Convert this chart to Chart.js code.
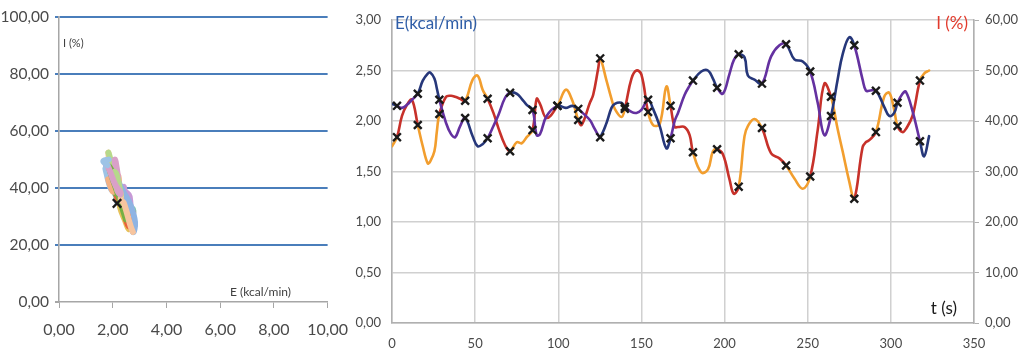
<!DOCTYPE html>
<html><head><meta charset="utf-8">
<script src="https://cdn.jsdelivr.net/npm/chart.js@4.4.1/dist/chart.umd.min.js"></script>
<style>
html,body{margin:0;padding:0;background:#fff;width:1025px;height:349px;overflow:hidden;}
#wl{position:absolute;left:0;top:0;width:360px;height:349px;}
#wr{position:absolute;left:345px;top:0;width:680px;height:349px;}
</style></head><body>
<div id="wl"><canvas id="cl"></canvas></div>
<div id="wr"><canvas id="cr"></canvas></div>
<script>
// ---------- DATA ----------
const timeS = [0,3,6,9,12,15.5,18.5,21.5,23,25.5,27,28.5,32.5,35.5,38,41,44,48.5,51.5,54.5,57.5,61,64,68,71,75,78,81,84.5,87,89,93,99.5,104.5,108.5,112,114,119,121,124,125.2,129,132,134,138,140,144,147,150,154,157,161,165,167.5,170,172,176,179,181,186,190,193,195.5,199,203,205.5,208.5,212,214,218,222.5,228,233,237,242,247,251.5,256,260,264,268,271,275,278,283,285,287,291,296,299,302,304,307,309,313,317.5,320,323];
const energyKcalMin = [2.17,2.15,2.13,2.16,2.21,2.27,2.40,2.47,2.48,2.42,2.32,2.21,1.98,1.87,1.84,1.95,2.03,1.85,1.75,1.77,1.83,1.95,2.06,2.23,2.28,2.27,2.22,2.16,2.11,1.86,1.87,2.05,2.15,2.13,2.15,2.12,2.09,2.01,1.95,1.86,1.84,1.98,2.13,2.17,2.18,2.14,2.09,2.08,2.11,2.21,2.12,1.95,1.73,1.83,2.00,2.08,2.26,2.35,2.40,2.49,2.50,2.42,2.33,2.27,2.47,2.60,2.66,2.63,2.45,2.41,2.37,2.64,2.75,2.76,2.61,2.59,2.49,2.18,1.86,2.05,2.41,2.66,2.83,2.75,2.41,2.30,2.30,2.30,2.14,2.05,2.08,2.18,2.27,2.29,2.10,1.80,1.65,1.85];
const intensityPct = [35.0,36.8,41.0,43.2,44.2,39.2,35.0,31.6,32.0,34.0,38.0,41.4,44.8,45.0,44.8,44.4,44.0,48.2,49.0,46.2,44.4,41.6,38.6,35.2,34.0,35.8,35.6,36.8,38.2,44.4,43.4,40.6,43.0,46.2,44.0,40.2,39.2,43.6,45.2,50.4,52.4,48.0,44.4,42.4,40.8,42.4,48.4,50.0,49.2,41.8,39.2,39.4,46.8,43.0,38.8,38.8,38.8,37.2,33.8,29.8,30.4,34.0,34.4,33.4,28.4,25.6,27.0,37.0,39.0,40.4,38.6,33.6,32.6,31.2,28.6,26.6,29.0,38.2,47.4,44.8,38.4,34.0,28.0,24.6,34.8,35.8,36.2,37.8,44.8,45.6,42.2,39.0,37.8,38.4,41.0,48.0,49.4,50.0];
const markerTimes = [3,15.5,28.5,44,57.5,71,84.5,99.5,112,125.2,140,154,167.5,181,195.5,208.5,222.5,237,251.5,264,278,291,304,317.5];
const meanE = [2.16];
const meanI = [34.6];
const leftXTicks = [0,2,4,6,8,10];
const leftYTicks = [0,20,40,60,80,100];

// ---------- STYLE ----------
const FONT = "Lato, 'Liberation Sans', sans-serif";
const NAVY = '#26377a', PURPLE = '#6431a0', RED = '#c7312a', ORANGE = '#f29e2e';
const BLOB = ['#9dc3e6','#f4b183','#a9d18e','#e6c15a','#c79ad6','#7fc8a9','#e9603a','#76b043','#8fb4e3','#f7c59f','#b6d98b','#d9a0c8'];
const TICKCOL = '#4a4a4a';
const fmt2 = v => Number(v).toFixed(2).replace('.', ',');

function phaseOf(t){ let p = 0; for (const m of markerTimes) if (m <= t + 1e-6) p++; return p; }
const isMarkerT = t => markerTimes.some(m => Math.abs(m - t) < 1e-6);

Chart.defaults.font.family = FONT;
Chart.defaults.color = TICKCOL;

// ---------- LEFT CHART ----------
const pairs = timeS.map((t,i) => ({x: energyKcalMin[i], y: intensityPct[i], t}));
const leftLabels = {
  id: 'leftLabels',
  afterDraw(chart){
    const {ctx, chartArea: a} = chart;
    ctx.save();
    ctx.fillStyle = '#404040'; ctx.textBaseline = 'middle'; ctx.textAlign = 'left';
    ctx.font = `11px ${FONT}`;
    ctx.fillText('I (%)', a.left + 4, a.top + 26);
    ctx.font = `12px ${FONT}`;
    ctx.fillText('E (kcal/min)', a.left + 171, a.bottom - 10);
    ctx.restore();
  }
};
new Chart(document.getElementById('cl'), {
  type: 'line',
  data: { datasets: [
    { data: meanE.map((e,i)=>({x:e, y:meanI[i]})), showLine:false, order:0,
      pointStyle:'crossRot', pointRadius:6, pointBorderWidth:2.2, pointBorderColor:'#1a1a1a', pointBackgroundColor:'#1a1a1a' },
    { data: pairs, showLine:true, order:1, borderWidth:6, tension:0.4, pointRadius:0,
      borderCapStyle:'round', borderJoinStyle:'round', borderColor: BLOB[0],
      segment: { borderColor: c => BLOB[phaseOf(pairs[c.p0DataIndex].t) % BLOB.length] } }
  ]},
  options: {
    responsive:true, maintainAspectRatio:false, animation:false, devicePixelRatio:1,
    layout: { padding: {top:17, right:31, left:0, bottom:0} },
    plugins: { legend:{display:false}, tooltip:{enabled:false} },
    scales: {
      x: { type:'linear', min:0, max:10, afterBuildTicks: s => { s.ticks = leftXTicks.map(v=>({value:v})); },
        afterFit: s => { s.height = 47; },
        grid: { drawOnChartArea:false, drawTicks:true, tickLength:6, tickColor:'#a6a6a6' },
        border: { color:'#a6a6a6', width:1.5 },
        ticks: { autoSkip:false, maxRotation:0, padding:12, font:{size:16}, color:TICKCOL, callback: fmt2 } },
      y: { type:'linear', min:0, max:100, afterBuildTicks: s => { s.ticks = leftYTicks.map(v=>({value:v})); },
        afterFit: s => { s.width = 59; },
        grid: { color: c => c.tick && c.tick.value === 0 ? 'rgba(0,0,0,0)' : '#4a7ebb', lineWidth:2, tickLength:4,
                tickColor: c => c.tick && c.tick.value === 0 ? '#a6a6a6' : '#4a7ebb' },
        border: { color:'#a6a6a6', width:1.5 },
        ticks: { padding:6, font:{size:15.5}, color:TICKCOL, callback: fmt2 } }
    }
  },
  plugins: [leftLabels]
});

// ---------- RIGHT CHART ----------
const ePts = timeS.map((t,i)=>({x:t, y:energyKcalMin[i]}));
const iPts = timeS.map((t,i)=>({x:t, y:intensityPct[i]}));
const rightLabels = {
  id: 'rightLabels',
  afterDraw(chart){
    const {ctx, chartArea: a} = chart;
    ctx.save();
    ctx.textBaseline = 'middle';
    ctx.font = `17px ${FONT}`;
    ctx.textAlign = 'left'; ctx.fillStyle = '#2f5ea8';
    ctx.fillText('E(kcal/min)', a.left + 3, a.top + 4);
    ctx.textAlign = 'right'; ctx.fillStyle = '#e23a2c';
    ctx.fillText('I (%)', a.right - 6, a.top + 4);
    ctx.fillStyle = '#1a1a1a';
    ctx.fillText('t (s)', a.right - 17, a.bottom - 14);
    ctx.restore();
  }
};
const markerStyle = { showLine:false, order:0, pointStyle:'crossRot', pointRadius:5.5, pointBorderWidth:2.4,
  pointBorderColor:'#1a1a1a', pointBackgroundColor:'#1a1a1a' };
new Chart(document.getElementById('cr'), {
  type: 'line',
  data: { datasets: [
    Object.assign({ data: ePts.filter(p=>isMarkerT(p.x)), yAxisID:'y' }, markerStyle),
    Object.assign({ data: iPts.filter(p=>isMarkerT(p.x)), yAxisID:'y2' }, markerStyle),
    { data: ePts, yAxisID:'y', order:1, borderWidth:2.6, tension:0.4, pointRadius:0, borderColor:NAVY,
      borderCapStyle:'round', borderJoinStyle:'round',
      segment: { borderColor: c => phaseOf(c.p0.parsed.x) % 2 ? PURPLE : NAVY } },
    { data: iPts, yAxisID:'y2', order:1, borderWidth:2.6, tension:0.4, pointRadius:0, borderColor:RED,
      borderCapStyle:'round', borderJoinStyle:'round',
      segment: { borderColor: c => phaseOf(c.p0.parsed.x) % 2 ? RED : ORANGE } }
  ]},
  options: {
    responsive:true, maintainAspectRatio:false, animation:false, devicePixelRatio:1,
    layout: { padding: {top:20, right:0, left:0, bottom:0} },
    plugins: { legend:{display:false}, tooltip:{enabled:false} },
    scales: {
      x: { type:'linear', min:0, max:350, afterFit: s => { s.height = 26; },
        grid: { color:'#d0d0d0', lineWidth:1.5, drawTicks:false },
        border: { color:'#b0b0b0', width:1.5 },
        ticks: { stepSize:50, autoSkip:false, maxRotation:0, padding:13, font:{size:13}, color:TICKCOL } },
      y: { type:'linear', position:'left', min:0, max:3, afterFit: s => { s.width = 47; },
        grid: { color:'#d0d0d0', lineWidth:1.5, drawTicks:false },
        border: { color:'#b0b0b0', width:1.5 },
        ticks: { stepSize:0.5, padding:11, font:{size:13}, color:TICKCOL, callback: fmt2 } },
      y2: { type:'linear', position:'right', min:0, max:60, afterFit: s => { s.width = 51; },
        grid: { drawOnChartArea:false, drawTicks:true, tickLength:5, tickColor:'#b0b0b0' },
        border: { color:'#b0b0b0', width:1.5 },
        ticks: { stepSize:10, padding:6, font:{size:13}, color:TICKCOL, callback: fmt2 } }
    }
  },
  plugins: [rightLabels]
});
</script>
</body></html>
